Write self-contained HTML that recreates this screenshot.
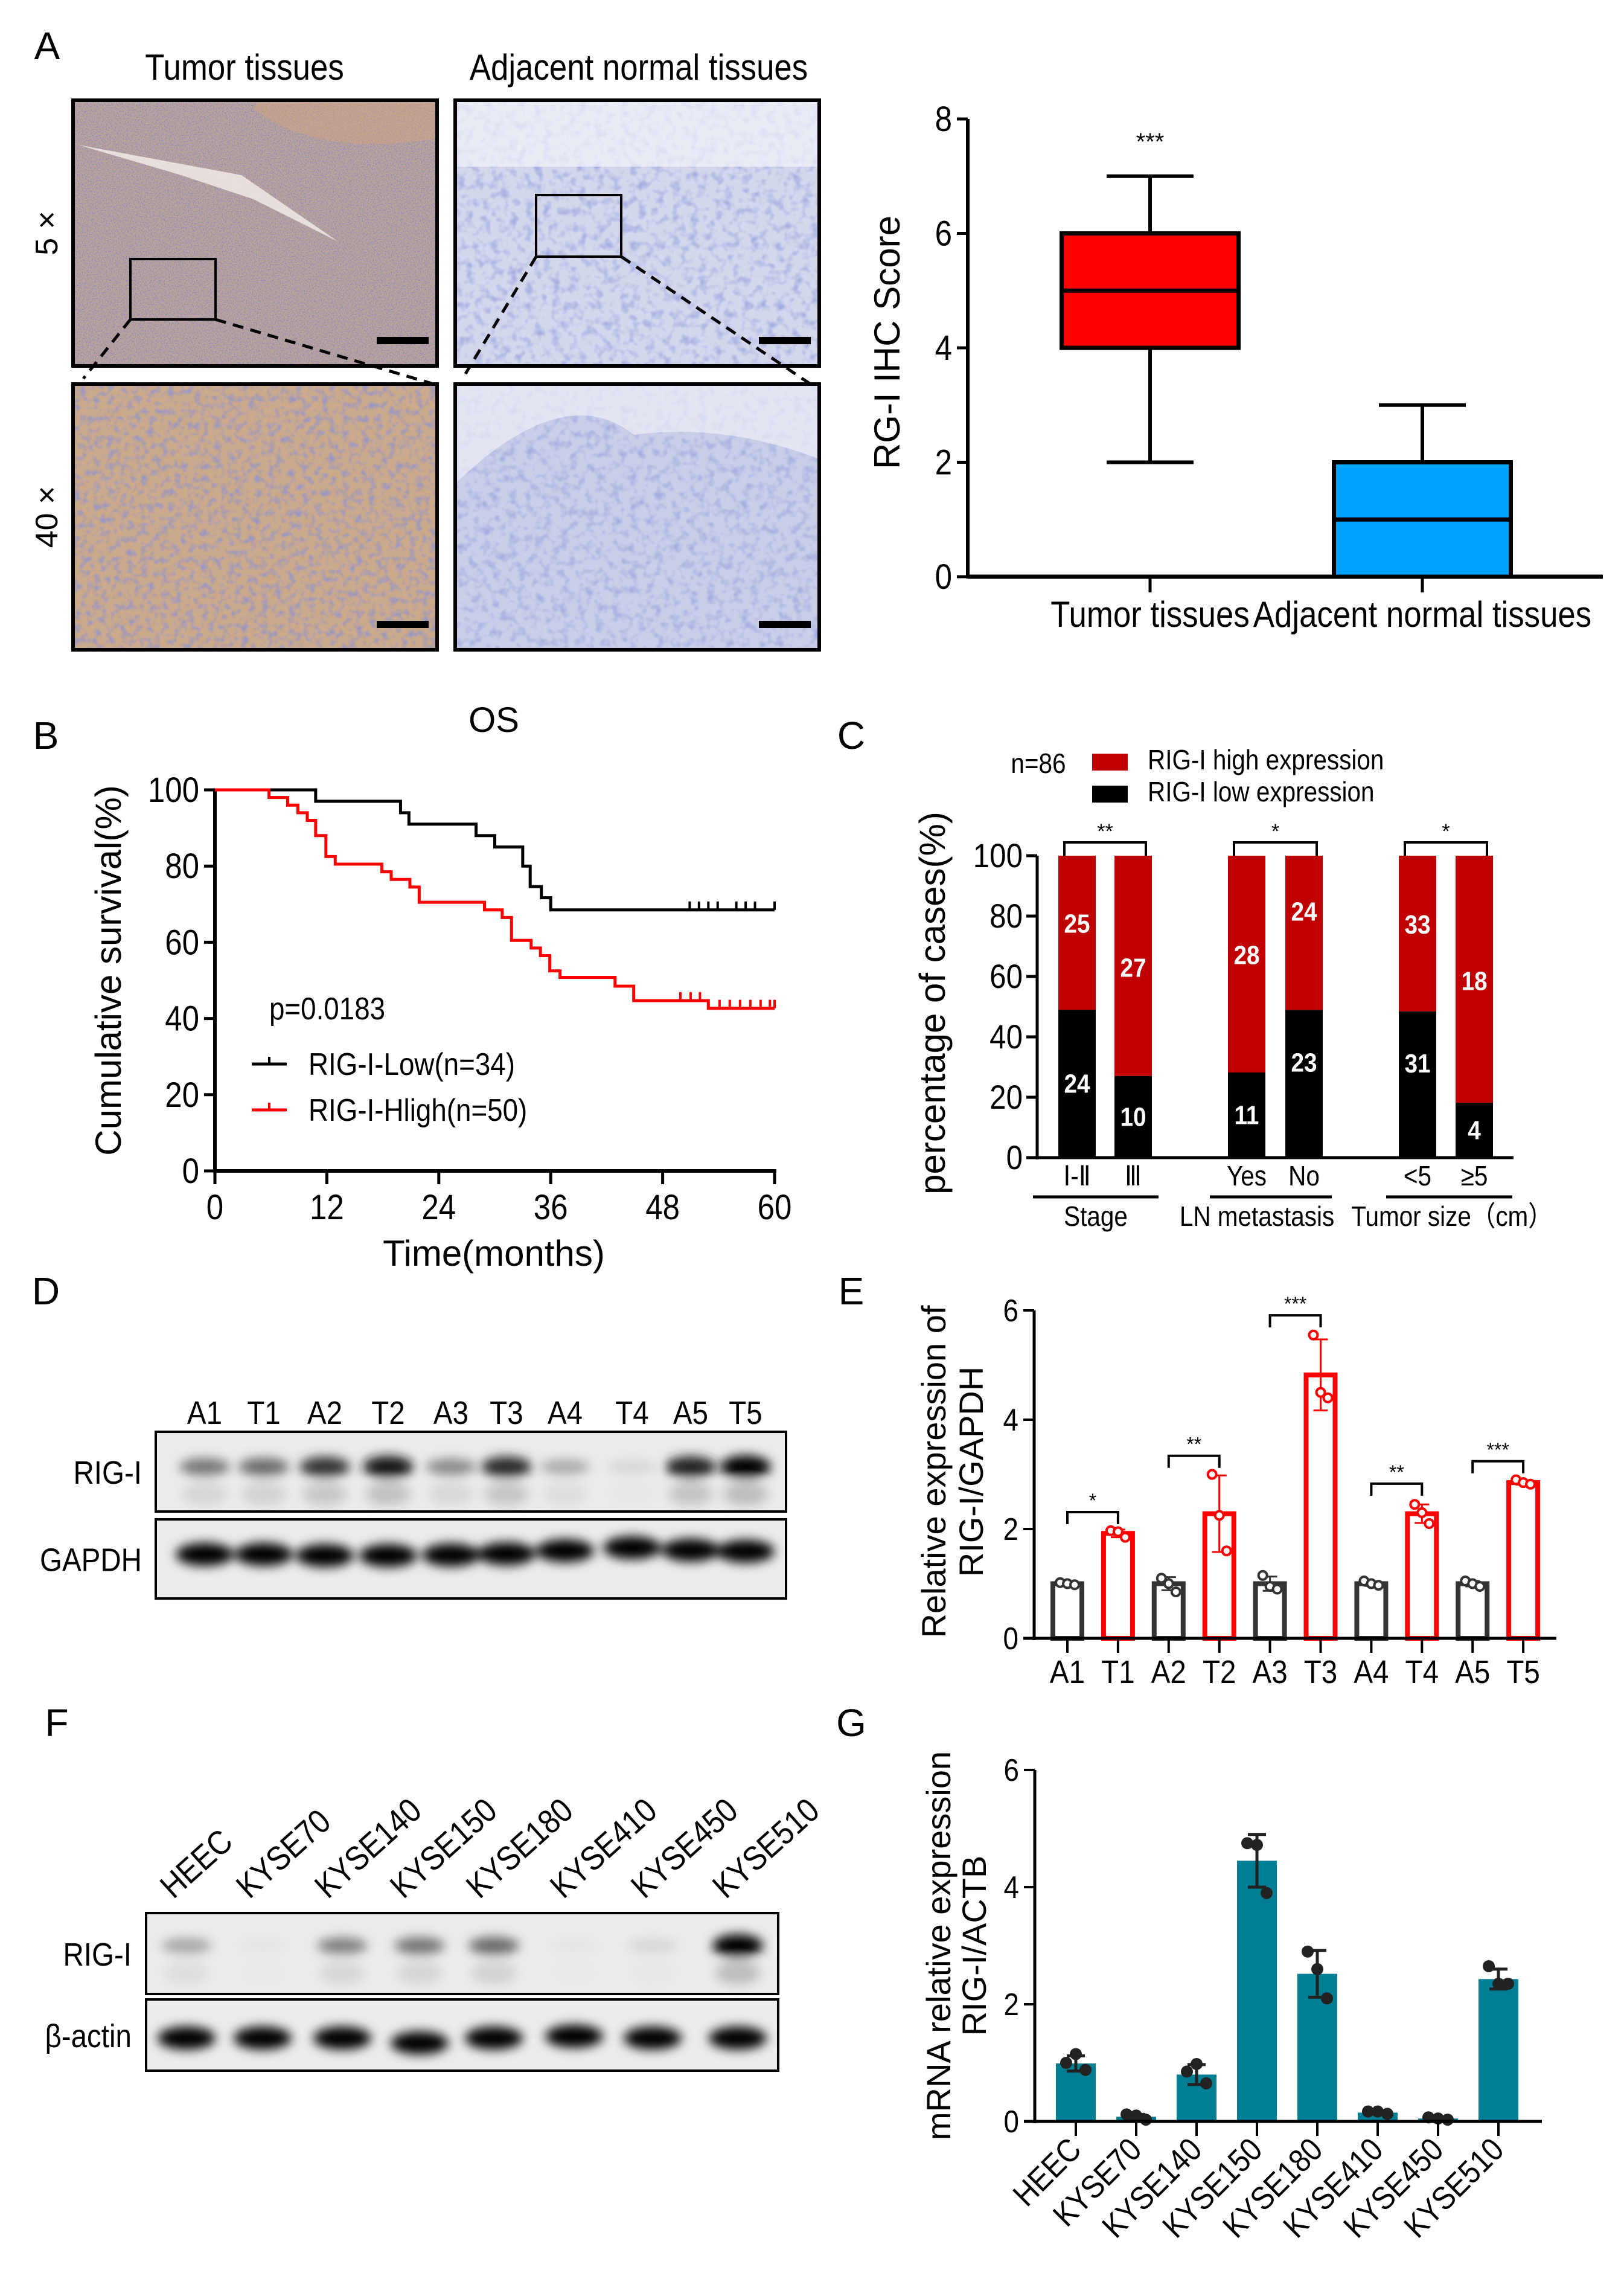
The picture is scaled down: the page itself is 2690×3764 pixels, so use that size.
<!DOCTYPE html>
<html><head><meta charset="utf-8">
<style>
html,body{margin:0;padding:0;background:#fff;}
svg{display:block;}
text{font-family:"Liberation Sans",Arial,sans-serif;}
</style></head>
<body>
<svg id="fig" xmlns="http://www.w3.org/2000/svg" width="2690" height="3764" viewBox="0 0 2690 3764">
<defs>
<filter id="texT" x="0" y="0" width="100%" height="100%">
<feTurbulence type="fractalNoise" baseFrequency="0.5" numOctaves="2" seed="3"/>
<feColorMatrix type="matrix" values="0 0 0 0 0.25  0 0 0 0 0.25  0 0 0 0 0.55  0 0 0 -3 1.7"/>
</filter>
<filter id="texB" x="0" y="0" width="100%" height="100%">
<feTurbulence type="fractalNoise" baseFrequency="0.09" numOctaves="2" seed="7"/>
<feColorMatrix type="matrix" values="0 0 0 0 0.3  0 0 0 0 0.3  0 0 0 0 0.6  0 0 0 -2.5 1.4"/>
</filter>
<filter id="texN" x="0" y="0" width="100%" height="100%">
<feTurbulence type="fractalNoise" baseFrequency="0.07" numOctaves="2" seed="11"/>
<feColorMatrix type="matrix" values="0 0 0 0 0.35  0 0 0 0 0.4  0 0 0 0 0.75  0 0 0 -2.6 1.4"/>
</filter>
<filter id="blur8"><feGaussianBlur stdDeviation="9"/></filter>
</defs>
</svg>
<script>
// ---------- DATA ----------
const boxGroups = ["Tumor tissues","Adjacent normal tissues"];
const boxMin = [2,0], boxQ1 = [4,0], boxMed = [5,1], boxQ3 = [6,2], boxMax = [7,3];
const boxTicks = [0,2,4,6,8];

const kmLowT = [0,10.8,19.9,20.8,28,30,33,33.8,35,36,60];
const kmLowS = [100,97,94,91,88,85,80,74.6,71.7,68.5,68.5];
const kmLowCens = [50.9,51.9,52.9,53.9,55.9,56.9,57.9,60];
const kmHighT = [0,5.8,7.8,8.9,9.9,10.8,11.9,12.9,17.9,18.9,20.9,21.9,28.9,30.8,31.8,33.9,34.9,35.9,37,42.9,44.9,52.9,60];
const kmHighS = [100,98,96,94,92,88,82.5,80.5,78.5,76.5,74.5,70.5,68.5,66.5,60.5,58.5,56.5,52.5,50.8,48.5,44.7,42.7,42.7];
const kmHighCens1 = [49.9,51,52];
const kmHighCens2 = [54.1,55.2,56.3,57.4,58.5,59.5,60];
const kmXTicks = [0,12,24,36,48,60];
const kmYTicks = [0,20,40,60,80,100];

const cCats = ["Ⅰ-Ⅱ","Ⅲ","Yes","No","<5","≥5"];
const cLow = [24,10,11,23,31,4];
const cHigh = [25,27,28,24,33,18];
const cSig = ["**","*","*"];
const cTicks = [0,20,40,60,80,100];

const eCats = ["A1","T1","A2","T2","A3","T3","A4","T4","A5","T5"];
const eMeans = [1,1.92,1,2.28,1,4.82,1,2.28,1,2.85];
const eErr = [0.03,0.07,0.12,0.7,0.13,0.65,0.04,0.17,0.05,0.04];
const ePts = [[1.02,1.0,0.98],[1.97,1.95,1.85],[1.1,1.0,0.85],[3.0,2.25,1.6],[1.15,0.95,0.9],[5.55,4.5,4.4],[1.05,1.0,0.97],[2.45,2.3,2.1],[1.05,1.0,0.95],[2.9,2.85,2.82]];
const eBrackets = [2.31,3.34,5.91,2.83,3.24];
const eStars = ["*","**","***","**","***"];
const eTicks = [0,2,4,6];

const gCats = ["HEEC","KYSE70","KYSE140","KYSE150","KYSE180","KYSE410","KYSE450","KYSE510"];
const gMeans = [0.99,0.08,0.8,4.45,2.52,0.15,0.05,2.43];
const gErr = [0.13,0.04,0.17,0.45,0.4,0.02,0.02,0.17];
const gPts = [[1.0,1.15,0.88],[0.12,0.1,0.03],[0.85,0.98,0.65],[4.75,4.72,3.9],[2.9,2.6,2.1],[0.17,0.17,0.13],[0.07,0.05,0.03],[2.65,2.35,2.35]];
const gTicks = [0,2,4,6];

const dLanes = ["A1","T1","A2","T2","A3","T3","A4","T4","A5","T5"];
const dRig = [0.5,0.55,0.78,0.92,0.42,0.82,0.28,0.1,0.85,1.0];
const fLanes = ["HEEC","KYSE70","KYSE140","KYSE150","KYSE180","KYSE410","KYSE450","KYSE510"];
const fRig = [0.3,0.03,0.45,0.5,0.55,0.03,0.1,1.0];

// ---------- helpers ----------
const NS="http://www.w3.org/2000/svg";
const svg=document.getElementById('fig');
function mk(tag,attrs,parent){const e=document.createElementNS(NS,tag);for(const k in attrs)e.setAttribute(k,attrs[k]);(parent||svg).appendChild(e);return e;}
function txt(s,x,y,size,parent,extra){
  extra=Object.assign({},extra||{});
  let tr=extra.transform||'';
  if(extra['class']==='n'){tr+=` translate(${x} ${y}) scale(0.88 1) translate(${-x} ${-y})`;delete extra['class'];}
  if(tr)extra.transform=tr.trim();
  const e=mk('text',Object.assign({x:x,y:y,'font-size':size},extra),parent);e.textContent=s;return e;}
function grp(){return mk('g',{});}

// ---------- Panel labels ----------
[["A",78,98],["B",76,1240],["C",1410,1240],["D",76,2160],["E",1410,2160],["F",94,2875],["G",1410,2875]].forEach(p=>{
  const t=txt(p[0],p[1],p[2],64,null,{'text-anchor':'middle'});
  
  
});

// ---------- Panel A micrographs ----------
const gA=grp();


let t1=txt("Tumor tissues",405,132,60,gA,{'text-anchor':'middle','class':'n'});


let t2=txt("Adjacent normal tissues",1058,132,60,gA,{'text-anchor':'middle','class':'n'});


let m1=txt("5 ×",95,386,52,gA,{'text-anchor':'middle',transform:'rotate(-90 95 386)'});


let m2=txt("40 ×",95,856,52,gA,{'text-anchor':'middle',transform:'rotate(-90 95 856)'});


const imgs=[[121,166,'#bca496','texT','tumor-5x-image'],[754,166,'#d3d7ec','texN','normal-5x-image'],[121,636,'#caa98a','texB','tumor-40x-image'],[754,636,'#c9cee8','texN','normal-40x-image']];
imgs.forEach((im,i)=>{
  const g=mk('g',{},gA);
  
  
  mk('rect',{x:im[0],y:im[1],width:603,height:440,fill:im[2]},g);
  mk('rect',{x:im[0],y:im[1],width:603,height:440,filter:'url(#'+im[3]+')',opacity:0.9},g);
  if(i===0){mk('path',{d:'M130 240 L300 290 L420 330 L560 400 L400 290 Z',fill:'#f4efea',opacity:0.8},g);
    mk('path',{d:'M420 180 Q520 260 720 230 L720 166 L430 166 Z',fill:'#d4a57c',opacity:0.45},g);}
  if(i===1){mk('rect',{x:754,y:166,width:603,height:110,fill:'#f2f3fa',opacity:0.7},g);}
  if(i===3){mk('path',{d:'M754 636 L1357 636 L1357 760 Q1200 700 1050 720 Q950 640 800 760 L754 800 Z',fill:'#eef0f7',opacity:0.7},g);}
  mk('rect',{x:im[0],y:im[1],width:603,height:440,fill:'none',stroke:'#000','stroke-width':6},g);
  mk('rect',{x:im[0]+503,y:im[1]+392,width:86,height:12,fill:'#000'},g);
});
mk('rect',{x:216,y:429,width:141,height:100,fill:'none',stroke:'#000','stroke-width':4},gA);
mk('rect',{x:888,y:323,width:141,height:102,fill:'none',stroke:'#000','stroke-width':4},gA);
[[216,529,138,627],[357,529,715,635],[888,425,771,619],[1029,425,1341,635]].forEach(l=>mk('line',{x1:l[0],y1:l[1],x2:l[2],y2:l[3],stroke:'#000','stroke-width':5,'stroke-dasharray':'18 12'},gA));

// ---------- Panel A box plot ----------
const bx0=1603, by0=955, bUnit=94.75;
const bY=v=>by0-v*bUnit;
const bCenters=[1905,2356], bW=293, bColors=['#ff0000','#00a2ff'];
const gB=grp();


boxTicks.forEach(v=>{
  mk('line',{x1:bx0-18,y1:bY(v),x2:bx0,y2:bY(v),stroke:'#000','stroke-width':5},gB);
  const t=txt(String(v),bx0-26,bY(v)+20,58,gB,{'text-anchor':'end','class':'n'});
  
  
});
boxGroups.forEach((name,i)=>{
  const cx=bCenters[i];
  const g=mk('g',{},gB);
  
  
  mk('line',{x1:cx,y1:bY(boxMax[i]),x2:cx,y2:bY(boxMin[i]),stroke:'#000','stroke-width':6},g);
  mk('line',{x1:cx-72,y1:bY(boxMax[i]),x2:cx+72,y2:bY(boxMax[i]),stroke:'#000','stroke-width':6},g);
  mk('line',{x1:cx-72,y1:bY(boxMin[i]),x2:cx+72,y2:bY(boxMin[i]),stroke:'#000','stroke-width':6},g);
  mk('rect',{x:cx-bW/2,y:bY(boxQ3[i]),width:bW,height:bY(boxQ1[i])-bY(boxQ3[i]),fill:bColors[i],stroke:'#000','stroke-width':7},g);
  mk('line',{x1:cx-bW/2,y1:bY(boxMed[i]),x2:cx+bW/2,y2:bY(boxMed[i]),stroke:'#000','stroke-width':7},g);
  mk('line',{x1:cx,y1:by0,x2:cx,y2:by0+26,stroke:'#000','stroke-width':5},gB);
  const t=txt(name,cx,by0+83,60,gB,{'text-anchor':'middle','class':'n'});
  
  
});
mk('line',{x1:bx0,y1:bY(8),x2:bx0,y2:by0+3,stroke:'#000','stroke-width':6},gB);
mk('line',{x1:bx0,y1:by0,x2:2655,y2:by0,stroke:'#000','stroke-width':7},gB);
let bs=txt("***",bCenters[0],bY(boxMax[0])-44,40,gB,{'text-anchor':'middle'});


let byt=txt("RG-I IHC Score",1490,567,60,gB,{'text-anchor':'middle',transform:'rotate(-90 1490 567)'});



// ---------- Panel B KM ----------
const kx0=356, kx1=1283, ky0=1939, ky100=1308;
const kX=t=>kx0+t*(kx1-kx0)/60, kY=v=>ky0-v*(ky0-ky100)/100;
const gK=grp();


let os=txt("OS",818,1212,58,gK,{'text-anchor':'middle'});


kmYTicks.forEach(v=>{
  mk('line',{x1:kx0-18,y1:kY(v),x2:kx0,y2:kY(v),stroke:'#000','stroke-width':5},gK);
  const t=txt(String(v),kx0-26,kY(v)+20,58,gK,{'text-anchor':'end','class':'n'});
  
  
});
kmXTicks.forEach(v=>{
  mk('line',{x1:kX(v),y1:ky0,x2:kX(v),y2:ky0+22,stroke:'#000','stroke-width':5},gK);
  const t=txt(String(v),kX(v),ky0+80,58,gK,{'text-anchor':'middle','class':'n'});
  
  
});
mk('line',{x1:kx0,y1:ky100,x2:kx0,y2:ky0+3,stroke:'#000','stroke-width':6},gK);
mk('line',{x1:kx0-3,y1:ky0,x2:kx1+3,y2:ky0,stroke:'#000','stroke-width':6},gK);
function stepPath(T,S){let d='M'+kX(T[0])+' '+kY(S[0]);for(let i=1;i<T.length;i++){d+=' L'+kX(T[i])+' '+kY(S[i-1])+' L'+kX(T[i])+' '+kY(S[i]);}return d;}
let kl=mk('path',{d:stepPath(kmLowT,kmLowS),fill:'none',stroke:'#000','stroke-width':5},gK);


let kh=mk('path',{d:stepPath(kmHighT,kmHighS),fill:'none',stroke:'#ff0000','stroke-width':5},gK);


kmLowCens.forEach(t=>mk('line',{x1:kX(t),y1:kY(68.5),x2:kX(t),y2:kY(68.5)-14,stroke:'#000','stroke-width':4},gK));
kmHighCens1.forEach(t=>mk('line',{x1:kX(t),y1:kY(44.7),x2:kX(t),y2:kY(44.7)-14,stroke:'#f00','stroke-width':4},gK));
kmHighCens2.forEach(t=>mk('line',{x1:kX(t),y1:kY(42.7),x2:kX(t),y2:kY(42.7)-14,stroke:'#f00','stroke-width':4},gK));
let pv=txt("p=0.0183",446,1688,52,gK,{'class':'n'});


[["RIG-I-Low(n=34)",'#000',1762],["RIG-I-Hligh(n=50)",'#f00',1838]].forEach((L,i)=>{
  const g=mk('g',{},gK);
  
  
  mk('line',{x1:417,y1:L[2],x2:475,y2:L[2],stroke:L[1],'stroke-width':5},g);
  mk('line',{x1:446,y1:L[2],x2:446,y2:L[2]-12,stroke:L[1],'stroke-width':4},g);
  txt(L[0],511,L[2]+18,52,g,{'class':'n'});
});
let kxt=txt("Time(months)",818,2096,60,gK,{'text-anchor':'middle'});


let kyt=txt("Cumulative survival(%)",200,1607,60,gK,{'text-anchor':'middle',transform:'rotate(-90 200 1607)'});



// ---------- Panel C stacked bars ----------
const cx0=1718, cy0=1917, cy100=1417;
const cY=v=>cy0-v*(cy0-cy100)/100;
const cCenters=[1784,1877,2065,2160,2348,2442], cW=62;
const gC=grp();


cTicks.forEach(v=>{
  mk('line',{x1:cx0-18,y1:cY(v),x2:cx0,y2:cY(v),stroke:'#000','stroke-width':5},gC);
  const t=txt(String(v),cx0-24,cY(v)+19,56,gC,{'text-anchor':'end','class':'n'});
  
  
});
cCats.forEach((c,i)=>{
  const tot=cLow[i]+cHigh[i], pl=cLow[i]/tot*100;
  const x=cCenters[i]-cW/2;
  const hb=mk('rect',{x:x,y:cY(100),width:cW,height:cY(pl)-cY(100),fill:'#c00000'},gC);
  
  
  const lb=mk('rect',{x:x,y:cY(pl),width:cW,height:cY(0)-cY(pl),fill:'#000'},gC);
  
  
  const th=txt(String(cHigh[i]),cCenters[i],(cY(100)+cY(pl))/2+ (i===1||i===5?18:(i===3?-20:0)),44,gC,{'text-anchor':'middle','font-weight':'bold',fill:'#fff','class':'n'});
  
  
  const tl=txt(String(cLow[i]),cCenters[i],(cY(pl)+cY(0))/2+ (i===3||i===4?-20:15),44,gC,{'text-anchor':'middle','font-weight':'bold',fill:'#fff','class':'n'});
  
  
  const xl=txt(c,cCenters[i],1963,46,gC,{'text-anchor':'middle','class':'n'});
  
  
});
mk('line',{x1:cx0,y1:cY(100),x2:cx0,y2:cy0+3,stroke:'#000','stroke-width':5},gC);
mk('line',{x1:cx0-18,y1:cy0,x2:2507,y2:cy0,stroke:'#000','stroke-width':5},gC);
cSig.forEach((s,k)=>{
  const a=cCenters[2*k]-cW/2+10, b=cCenters[2*k+1]+cW/2-10;
  mk('path',{d:`M${a} ${cY(100)} L${a} 1395 L${b} 1395 L${b} ${cY(100)}`,fill:'none',stroke:'#000','stroke-width':4},gC);
  const st=txt(s,(a+b)/2,1388,34,gC,{'text-anchor':'middle'});
  
  
});
[["Stage",1711,1919,1815],["LN metastasis",2004,2206,2082],["Tumor size（cm）",2296,2505,2405]].forEach(g=>{
  mk('line',{x1:g[1],y1:1982,x2:g[2],y2:1982,stroke:'#000','stroke-width':5},gC);
  const t=txt(g[0],g[3],2030,46,gC,{'text-anchor':'middle','class':'n'});
  
  
});
let n86=txt("n=86",1720,1280,46,gC,{'text-anchor':'middle','class':'n'});


[["RIG-I high expression",'#c00000',1248],["RIG-I low expression",'#000',1301]].forEach(L=>{
  const g=mk('g',{},gC);
  
  
  mk('rect',{x:1809,y:L[2],width:59,height:28,fill:L[1]},g);
  txt(L[0],1901,L[2]+26,46,g,{'class':'n'});
});
let cyt=txt("percentage of cases(%)",1565,1661,60,gC,{'text-anchor':'middle',transform:'rotate(-90 1565 1661)'});



// ---------- Western blots ----------
function blot(lanes,centers,rig,box1,box2,yR,yL,labelR,labelL,labX,name,loadVar){
  const g=grp();
  
  
  [box1,box2].forEach(b=>{mk('rect',{x:b[0],y:b[1],width:b[2]-b[0],height:b[3]-b[1],fill:'#ececec'},g);});
  const gb=mk('g',{filter:'url(#blur8)'},g);
  centers.forEach((cx,i)=>{
    const v=rig[i];
    const shade=Math.round(235-v*235);
    mk('ellipse',{cx:cx,cy:yR,rx:42,ry:10+v*9,fill:`rgb(${shade},${shade},${shade})`},gb);
    const s2=Math.round(235-v*45);
    mk('ellipse',{cx:cx,cy:yR+45,rx:38,ry:20,fill:`rgb(${s2},${s2},${s2})`},gb);
    mk('ellipse',{cx:cx,cy:yL+(loadVar?loadVar[i]:0),rx:48,ry:19,fill:'#000'},gb);
  });
  [box1,box2].forEach(b=>{mk('rect',{x:b[0],y:b[1],width:b[2]-b[0],height:b[3]-b[1],fill:'none',stroke:'#000','stroke-width':4},g);});
  const a=txt(labelR,labX,(box1[1]+box1[3])/2+20,54,g,{'text-anchor':'end','class':'n'});
  
  
  const b=txt(labelL,labX,(box2[1]+box2[3])/2+20,54,g,{'text-anchor':'end','class':'n'});
  
  
  return g;
}
const dCenters=[339,437,538,643,747,839,936,1047,1144,1235];
const gD=blot(dLanes,dCenters,dRig,[258,2371,1302,2503],[258,2516,1302,2647],2429,2571,"RIG-I","GAPDH",235,'western-blot-tissues',[3,3,5,5,4,2,-3,-8,-4,-2]);
dLanes.forEach((l,i)=>{
  const t=txt(l,dCenters[i],2358,54,gD,{'text-anchor':'middle','class':'n'});
  
  
});
const fCenters=[309,435,567,695,818,951,1081,1222];
const gF=blot(fLanes,fCenters,fRig,[242,3168,1289,3302],[242,3311,1289,3429],3222,3375,"RIG-I","β-actin",218,'western-blot-cell-lines',[0,0,0,8,0,-3,0,0]);
const fStarts=[287,413,543,668,794,933,1067,1202];
fLanes.forEach((l,i)=>{
  const t=txt(l,fStarts[i],3146,56,gF,{'class':'n',transform:`rotate(-42 ${fStarts[i]} 3146)`});
  
  
});

// ---------- Panel E ----------
const ex0=1713, ey0=2713, eUnit=90.5;
const eY=v=>ey0-v*eUnit;
const eX=i=>1768+i*83.9, eW=48;
const gE=grp();


eTicks.forEach(v=>{
  mk('line',{x1:ex0-18,y1:eY(v),x2:ex0,y2:eY(v),stroke:'#000','stroke-width':4},gE);
  const t=txt(String(v),ex0-26,eY(v)+18,52,gE,{'text-anchor':'end','class':'n'});
  
  
});
eCats.forEach((c,i)=>{
  const col=i%2?'#ff0000':'#333';
  const r=mk('rect',{x:eX(i)-eW/2,y:eY(eMeans[i]),width:eW,height:eY(0)-eY(eMeans[i]),fill:'none',stroke:col,'stroke-width':8},gE);
  
  
  mk('line',{x1:eX(i),y1:eY(eMeans[i]-eErr[i]),x2:eX(i),y2:eY(eMeans[i]+eErr[i]),stroke:col,'stroke-width':3},gE);
  mk('line',{x1:eX(i)-12,y1:eY(eMeans[i]+eErr[i]),x2:eX(i)+12,y2:eY(eMeans[i]+eErr[i]),stroke:col,'stroke-width':3},gE);
  mk('line',{x1:eX(i)-12,y1:eY(eMeans[i]-eErr[i]),x2:eX(i)+12,y2:eY(eMeans[i]-eErr[i]),stroke:col,'stroke-width':3},gE);
  ePts[i].forEach((p,k)=>{
    const pt=mk('circle',{cx:eX(i)-12+k*12,cy:eY(p),r:7,fill:'#fff',stroke:col,'stroke-width':4},gE);
    
    
  });
  mk('line',{x1:eX(i),y1:ey0,x2:eX(i),y2:ey0+24,stroke:'#000','stroke-width':4},gE);
  const t=txt(c,eX(i),2787,54,gE,{'text-anchor':'middle','class':'n'});
  
  
});
mk('line',{x1:ex0,y1:eY(6),x2:ex0,y2:ey0+3,stroke:'#000','stroke-width':5},gE);
mk('line',{x1:ex0-18,y1:ey0,x2:2578,y2:ey0,stroke:'#000','stroke-width':5},gE);
eBrackets.forEach((v,k)=>{
  const a=eX(2*k), b=eX(2*k+1), y=eY(v);
  mk('path',{d:`M${a} ${y+20} L${a} ${y} L${b} ${y} L${b} ${y+20}`,fill:'none',stroke:'#000','stroke-width':4},gE);
  const st=txt(eStars[k],(a+b)/2,y-8,32,gE,{'text-anchor':'middle'});
  
  
});
let ey1=txt("Relative expression of",1566,2437,56,gE,{'text-anchor':'middle',transform:'rotate(-90 1566 2437)'});


let ey2=txt("RIG-I/GAPDH",1628,2437,56,gE,{'text-anchor':'middle',transform:'rotate(-90 1628 2437)'});



// ---------- Panel G ----------
const gx0=1714, gy0=3513, gUnit=97;
const gY=v=>gy0-v*gUnit;
const gX=i=>1782+i*100, gW=66;
const gG=grp();


gTicks.forEach(v=>{
  mk('line',{x1:gx0-18,y1:gY(v),x2:gx0,y2:gY(v),stroke:'#000','stroke-width':4},gG);
  const t=txt(String(v),gx0-26,gY(v)+18,52,gG,{'text-anchor':'end','class':'n'});
  
  
});
gCats.forEach((c,i)=>{
  const r=mk('rect',{x:gX(i)-gW/2,y:gY(gMeans[i]),width:gW,height:gY(0)-gY(gMeans[i]),fill:'#007e93'},gG);
  
  
  mk('line',{x1:gX(i),y1:gY(gMeans[i]-gErr[i]),x2:gX(i),y2:gY(gMeans[i]+gErr[i]),stroke:'#222','stroke-width':5},gG);
  mk('line',{x1:gX(i)-15,y1:gY(gMeans[i]+gErr[i]),x2:gX(i)+15,y2:gY(gMeans[i]+gErr[i]),stroke:'#222','stroke-width':5},gG);
  mk('line',{x1:gX(i)-15,y1:gY(gMeans[i]-gErr[i]),x2:gX(i)+15,y2:gY(gMeans[i]-gErr[i]),stroke:'#222','stroke-width':5},gG);
  gPts[i].forEach((p,k)=>{
    const pt=mk('circle',{cx:gX(i)-16+k*16,cy:gY(p),r:10,fill:'#222'},gG);
    
    
  });
  mk('line',{x1:gX(i),y1:gy0,x2:gX(i),y2:gy0+24,stroke:'#000','stroke-width':4},gG);
  const t=txt(c,gX(i)+12,gy0+50,54,gG,{'text-anchor':'end','class':'n',transform:`rotate(-45 ${gX(i)+12} ${gy0+50})`});
  
  
});
mk('line',{x1:gx0,y1:gY(6),x2:gx0,y2:gy0+3,stroke:'#000','stroke-width':5},gG);
mk('line',{x1:gx0-18,y1:gy0,x2:2554,y2:gy0,stroke:'#000','stroke-width':5},gG);
let gy1=txt("mRNA relative expression",1574,3222,56,gG,{'text-anchor':'middle',transform:'rotate(-90 1574 3222)'});


let gy2=txt("RIG-I/ACTB",1633,3222,56,gG,{'text-anchor':'middle',transform:'rotate(-90 1633 3222)'});


</script>
</body></html>
